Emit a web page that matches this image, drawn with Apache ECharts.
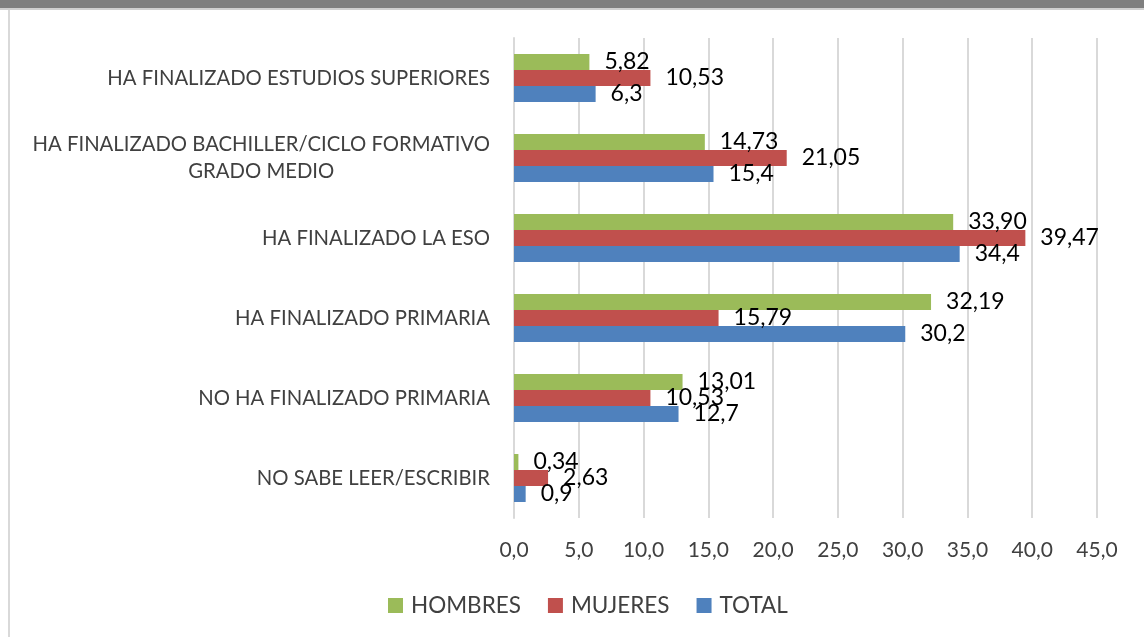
<!DOCTYPE html>
<html>
<head>
<meta charset="utf-8">
<script src="https://cdn.jsdelivr.net/npm/echarts@6/dist/echarts.min.js"></script>
<style>
  html, body { margin: 0; padding: 0; background: #fff; }
  #topbar { position: absolute; left: 0; top: 0; width: 1144px; height: 8px; background: #7f7f7f; border-bottom: 2px solid #d0d0d0; }
  #leftline { position: absolute; left: 8px; top: 10px; width: 2px; height: 627px; background: #d9d9d9; }
  #bar-chart { position: absolute; left: 0; top: 0; width: 1144px; height: 637px; }
</style>
</head>
<body>
<div id="bar-chart"></div>
<div id="topbar"></div>
<div id="leftline"></div>
<script>
var categories = [
    'NO SABE LEER/ESCRIBIR',
    'NO HA FINALIZADO PRIMARIA',
    'HA FINALIZADO PRIMARIA',
    'HA FINALIZADO LA ESO',
    'HA FINALIZADO BACHILLER/CICLO FORMATIVO\nGRADO MEDIO',
    'HA FINALIZADO ESTUDIOS SUPERIORES'
];
var totalValues = [0.9, 12.7, 30.2, 34.4, 15.4, 6.3];
var mujeresValues = [2.63, 10.53, 15.79, 39.47, 21.05, 10.53];
var hombresValues = [0.34, 13.01, 32.19, 33.90, 14.73, 5.82];
var totalLabels = ['0,9', '12,7', '30,2', '34,4', '15,4', '6,3'];
var mujeresLabels = ['2,63', '10,53', '15,79', '39,47', '21,05', '10,53'];
var hombresLabels = ['0,34', '13,01', '32,19', '33,90', '14,73', '5,82'];

var barChart = echarts.init(document.getElementById('bar-chart'));

function makeSeries(name, values, labels, color) {
    return {
        name: name,
        type: 'bar',
        data: values,
        barGap: '0%',
        barCategoryGap: '40%',
        itemStyle: { color: color },
        label: {
            show: true,
            position: 'right',
            distance: 15,
            color: '#000',
            fontSize: 23,
            fontFamily: 'Lato',
            formatter: function (p) {
                return labels[p.dataIndex];
            }
        }
    };
}

var option = {
    animation: false,
    textStyle: { fontFamily: 'Lato' },
    grid: { left: 514, right: 47, top: 38, bottom: 119 },
    legend: {
        bottom: 15,
        left: 383,
        data: ['HOMBRES', 'MUJERES', 'TOTAL'],
        icon: 'rect',
        itemWidth: 15,
        itemHeight: 15,
        itemGap: 27,
        textStyle: { fontSize: 22.5, color: '#404040', padding: [0, 0, 0, 3] }
    },
    xAxis: {
        type: 'value',
        min: 0,
        max: 45,
        interval: 5,
        axisLine: { show: false },
        axisTick: { show: false },
        axisLabel: {
            margin: 22,
            fontSize: 21,
            color: '#404040',
            formatter: function (v) { return v.toFixed(1).replace('.', ','); }
        },
        splitLine: { lineStyle: { color: '#d9d9d9', width: 2 } }
    },
    yAxis: {
        type: 'category',
        data: categories,
        axisLine: { lineStyle: { color: '#d9d9d9', width: 2 } },
        axisTick: { show: false },
        axisLabel: {
            margin: 24,
            fontSize: 20.3,
            color: '#404040',
            lineHeight: 27,
            formatter: function (v) {
                return v.split('\n').map(function (s) { return '{c|' + s + '}'; }).join('\n');
            },
            rich: { c: { align: 'center', fontSize: 20.3, color: '#404040', lineHeight: 27 } }
        }
    },
    series: [
        makeSeries('HOMBRES', hombresValues, hombresLabels, '#9bbb59'),
        makeSeries('MUJERES', mujeresValues, mujeresLabels, '#c0504d'),
        makeSeries('TOTAL', totalValues, totalLabels, '#4f81bd')
    ]
};

barChart.setOption(option);
</script>
</body>
</html>
